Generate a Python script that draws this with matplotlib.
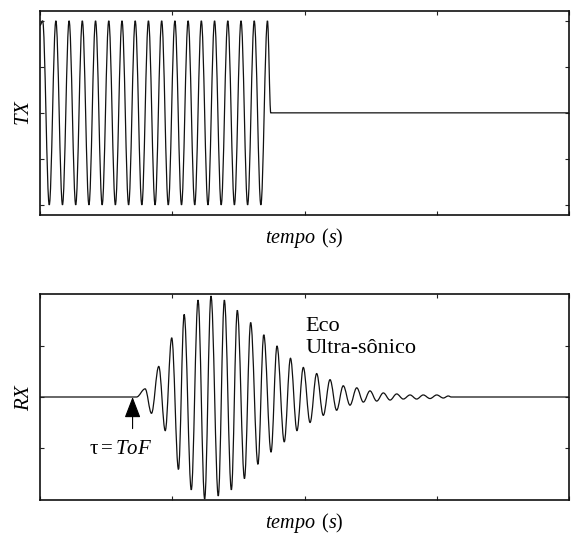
import matplotlib
matplotlib.use("Agg")
import matplotlib.pyplot as plt
from matplotlib.path import Path
from matplotlib.patches import PathPatch

# extrema of the transmitted burst
tx_time = [0.0, 0.02, 0.07, 0.12, 0.17, 0.22, 0.27, 0.32, 0.37, 0.42, 0.47,
           0.52, 0.57, 0.62, 0.67, 0.72, 0.77, 0.82, 0.87, 0.92, 0.97,
           1.02, 1.07, 1.12, 1.17, 1.22, 1.27, 1.32, 1.37, 1.42, 1.47,
           1.52, 1.57, 1.62, 1.67, 1.72, 1.745, 4.0]
tx_value = [0.95, 1, -1, 1, -1, 1, -1, 1, -1, 1, -1,
            1, -1, 1, -1, 1, -1, 1, -1, 1, -1,
            1, -1, 1, -1, 1, -1, 1, -1, 1, -1,
            1, -1, 1, -1, 1, 0, 0]

# extrema of the received echo
rx_time = [0.0, 0.73,
           0.795, 0.843, 0.898, 0.947, 0.996, 1.047, 1.09, 1.144, 1.195, 1.245,
           1.293, 1.348, 1.394, 1.447, 1.492, 1.546, 1.593, 1.648, 1.692, 1.747,
           1.792, 1.847, 1.894, 1.943, 1.991, 2.042, 2.092, 2.142, 2.193, 2.243,
           2.293, 2.344, 2.395, 2.445, 2.495, 2.546, 2.596, 2.647, 2.697, 2.747,
           2.798, 2.848, 2.898, 2.949, 3.0, 3.05, 3.087,
           3.11, 4.0]
rx_value = [0, 0,
            0.08, -0.16, 0.30, -0.33, 0.58, -0.71, 0.81, -0.91, 0.95, -1.0,
            0.99, -0.97, 0.95, -0.91, 0.85, -0.80, 0.73, -0.66, 0.61, -0.54,
            0.50, -0.44, 0.38, -0.33, 0.29, -0.25, 0.23, -0.18, 0.17, -0.13,
            0.11, -0.08, 0.09, -0.05, 0.06, -0.04, 0.04, -0.03, 0.03, -0.02,
            0.02, -0.02, 0.02, -0.015, 0.02, -0.01, 0.01,
            0, 0]

x_ticks = [0, 1, 2, 3, 4]
tx_ticks = [-1, -0.5, 0, 0.5, 1]
rx_ticks = [-0.5, 0, 0.5]

tof_time = 0.70
tof_label = r'$\mathrm{\tau}=ToF$'
echo_label = 'Eco\nUltra-sônico'
x_label = r'$tempo\ \,(s)$'

plt.rcParams['font.family'] = ['Liberation Serif', 'DejaVu Serif']
plt.rcParams['mathtext.fontset'] = 'custom'
plt.rcParams['mathtext.rm'] = 'Liberation Serif'
plt.rcParams['mathtext.it'] = 'Liberation Serif:italic'


# smooth curve through the extrema, flat tangent at each extremum
def wave_path(t, v):
    verts = [(t[0], v[0])]
    codes = [Path.MOVETO]
    for i in range(1, len(t)):
        d = (t[i] - t[i - 1]) * 0.36
        verts += [(t[i - 1] + d, v[i - 1]), (t[i] - d, v[i]), (t[i], v[i])]
        codes += [Path.CURVE4] * 3
    return Path(verts, codes)


def style_axes(ax, yticks, ylim):
    ax.set_xlim(0, 4)
    ax.set_ylim(*ylim)
    ax.set_xticks(x_ticks)
    ax.set_yticks(yticks)
    ax.tick_params(direction='in', length=3, width=0.8, color='#222222',
                   top=True, right=True, labelbottom=False, labelleft=False)
    for s in ax.spines.values():
        s.set_linewidth(1.2)
        s.set_color('#111111')
    ax.set_xlabel(x_label, fontsize=14.5, labelpad=8)


fig = plt.figure(figsize=(5.71, 5.34), dpi=100)

ax1 = fig.add_axes([40 / 571, 1 - 215 / 534, 529 / 571, 204.3 / 534])
ax1.add_patch(PathPatch(wave_path(tx_time, tx_value), fill=False,
                        ec='#111111', lw=0.9))
style_axes(ax1, tx_ticks, (-1.11, 1.11))
ax1.set_ylabel(r'$TX$', fontsize=15, labelpad=4)

ax2 = fig.add_axes([40 / 571, 1 - 500 / 534, 529 / 571, 206 / 534])
ax2.add_patch(PathPatch(wave_path(rx_time, rx_value), fill=False,
                        ec='#111111', lw=0.9))
style_axes(ax2, rx_ticks, (-1.01, 1.01))
ax2.set_ylabel(r'$RX$', fontsize=15, labelpad=4)

ax2.annotate('', xy=(tof_time, 0), xytext=(tof_time, -0.31),
             arrowprops=dict(arrowstyle='-|>,head_length=1.3,head_width=0.5',
                             color='black', lw=0.8, shrinkA=0, shrinkB=0))
ax2.text(0.61, -0.51, tof_label, fontsize=15, ha='center', va='center')
ax2.text(2.01, 0.78, echo_label, fontsize=16, ha='left', va='top',
         linespacing=1.2)

fig.savefig('out.png', dpi=100)
